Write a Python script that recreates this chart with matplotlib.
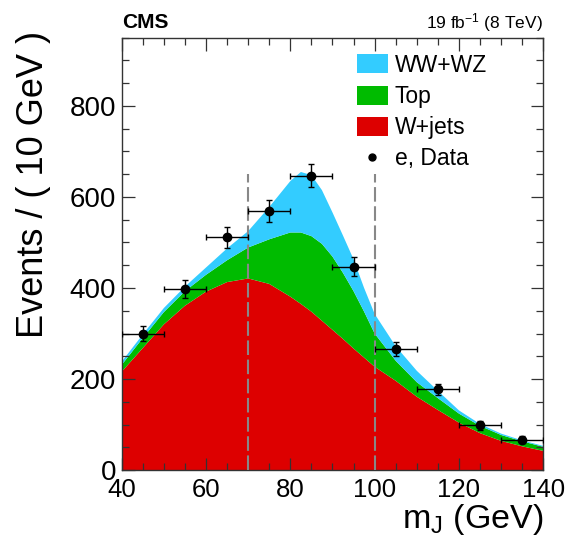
import numpy as np
import matplotlib
matplotlib.use("Agg")
import matplotlib.pyplot as plt
from matplotlib.patches import Patch
from matplotlib.lines import Line2D

plt.rcParams['font.family'] = ['Liberation Sans', 'DejaVu Sans']
plt.rcParams['mathtext.default'] = 'regular'

# ---- data ----
mj_grid = [40, 45, 50, 55, 60, 65, 70, 75, 80, 82.5, 85, 87.5, 90, 92.5, 95,
           97.5, 100, 105, 110, 115, 120, 125, 130, 135, 140]
wjets = [216, 268, 320, 361, 392, 413, 421, 409, 381, 365, 348, 328, 308, 288,
         267, 247, 227, 196, 161, 132, 104, 81, 64, 52, 42]
top = [15, 22, 27, 32, 37, 48, 68, 98, 141, 157, 166, 169, 161, 145, 126, 101,
       73, 44, 32, 26, 20, 16, 13, 11, 9]
diboson = [7, 8, 9, 10, 16, 26, 36, 71, 113, 133, 134, 118, 97, 82, 70, 52,
           43, 32, 25, 16, 7, 4, 3, 2, 2]

data_x = [45, 55, 65, 75, 85, 95, 105, 115, 125, 135]
data_y = [300, 397, 511, 569, 647, 447, 266, 177, 98, 67]
data_yerr = [17, 20, 23, 24, 25, 21, 16, 13, 10, 8]
data_xerr = [5] * 10

signal_window = [70, 100]

labels = ['WW+WZ', 'Top', 'W+jets', 'e, Data']
col_vv = '#33CCFF'
col_top = '#00BB00'
col_wj = '#DD0000'

fig = plt.figure(figsize=(5.71, 5.42), dpi=100)
ax = fig.add_axes([0.2131, 0.1328, 0.7384, 0.7976])

ax.stackplot(mj_grid, wjets, top, diboson, colors=[col_wj, col_top, col_vv],
             linewidth=0, antialiased=True)

for xv in signal_window:
    ax.plot([xv, xv], [0, 650], color='#888888', lw=1.5, ls=(0, (7, 2.2)), zorder=3)

ax.errorbar(data_x, data_y, xerr=data_xerr, yerr=data_yerr, fmt='o', color='black',
            markersize=6, elinewidth=1.0, capsize=2.2, capthick=1.0, zorder=5)

ax.set_xlim(40, 140)
ax.set_ylim(0, 950)
ax.set_xticks([40, 60, 80, 100, 120, 140])
ax.set_xticks(np.arange(40, 141, 5), minor=True)
ax.set_yticks([0, 200, 400, 600, 800])
ax.set_yticks(np.arange(0, 951, 50), minor=True)
ax.tick_params(which='both', direction='in', top=True, right=True, width=0.9,
               color='#333333')
ax.tick_params(which='major', length=9)
ax.tick_params(which='minor', length=5)
ax.tick_params(axis='x', which='major', pad=6, labelsize=18.5)
ax.tick_params(axis='y', which='major', pad=4, labelsize=20)
for s in ax.spines.values():
    s.set_linewidth(1.0)
    s.set_color('#333333')

ax.set_ylabel('Events / ( 10 GeV )', fontsize=26, loc='top')
ax.yaxis.set_label_coords(-0.168, 1.015)
ax.set_xlabel('m$_{J}$ (GeV)', fontsize=24.5, loc='right')
ax.xaxis.set_label_coords(1.0, -0.074)

handles = [Patch(facecolor=col_vv, edgecolor='none'),
           Patch(facecolor=col_top, edgecolor='none'),
           Patch(facecolor=col_wj, edgecolor='none'),
           Line2D([], [], marker='o', color='black', ls='none', markersize=5)]
ax.legend(handles, labels, loc='upper left', bbox_to_anchor=(0.558, 0.963),
          frameon=False, fontsize=16.5, handlelength=1.35, handleheight=0.9,
          handletextpad=0.3, labelspacing=0.36, borderpad=0, borderaxespad=0)

fig.text(0.2131, 0.948, 'CMS', fontsize=15, fontweight='bold', ha='left', va='baseline')
fig.text(0.9515, 0.948, '19 fb$^{-1}$ (8 TeV)', fontsize=12.5, ha='right', va='baseline')

fig.savefig('out.png', dpi=100)
